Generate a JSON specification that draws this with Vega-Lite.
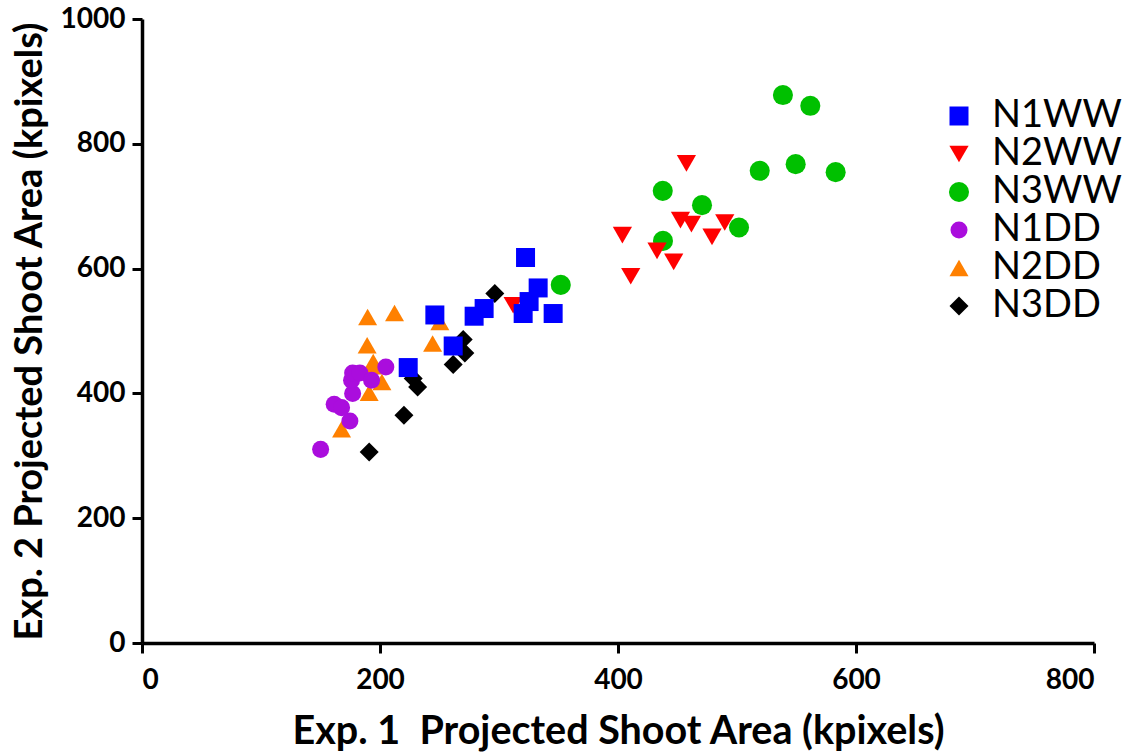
{
  "$schema": "https://vega.github.io/schema/vega-lite/v6.json",
  "width": 952,
  "height": 624,
  "autosize": {"type": "none"},
  "padding": {"left": 142, "top": 19, "right": 48, "bottom": 113},
  "background": "white",
  "config": {
    "view": {"stroke": null},
    "axis": {
      "grid": false,
      "domainColor": "black",
      "domainWidth": 3.5,
      "tickColor": "black",
      "tickWidth": 3,
      "tickSize": 10,
      "labelFont": "Lato",
      "labelFontWeight": "bold",
      "labelFontSize": 28,
      "labelColor": "black",
      "titleFont": "Lato",
      "titleFontWeight": "bold",
      "titleFontSize": 38,
      "titleColor": "black"
    }
  },
  "data": {
    "values": [
      {"group": "N3WW", "exp1": 538.6, "exp2": 878.1},
      {"group": "N3WW", "exp1": 561.6, "exp2": 860.9},
      {"group": "N3WW", "exp1": 519.1, "exp2": 756.7},
      {"group": "N3WW", "exp1": 549.3, "exp2": 767.4},
      {"group": "N3WW", "exp1": 582.9, "exp2": 754.6},
      {"group": "N3WW", "exp1": 437.6, "exp2": 724.6},
      {"group": "N3WW", "exp1": 470.6, "exp2": 701.7},
      {"group": "N3WW", "exp1": 501.7, "exp2": 665.9},
      {"group": "N3WW", "exp1": 437.8, "exp2": 644.4},
      {"group": "N3WW", "exp1": 351.9, "exp2": 573.9},
      {"group": "N3DD", "exp1": 296.5, "exp2": 560.1},
      {"group": "N3DD", "exp1": 269.9, "exp2": 486.3},
      {"group": "N3DD", "exp1": 271.3, "exp2": 464.8},
      {"group": "N3DD", "exp1": 261.5, "exp2": 446.2},
      {"group": "N3DD", "exp1": 227.9, "exp2": 423.7},
      {"group": "N3DD", "exp1": 231.6, "exp2": 410.3},
      {"group": "N3DD", "exp1": 220.1, "exp2": 364.9},
      {"group": "N3DD", "exp1": 190.9, "exp2": 306.0},
      {"group": "N2DD", "exp1": 189.6, "exp2": 522.5},
      {"group": "N2DD", "exp1": 212.2, "exp2": 529.0},
      {"group": "N2DD", "exp1": 250.3, "exp2": 514.5},
      {"group": "N2DD", "exp1": 244.2, "exp2": 479.9},
      {"group": "N2DD", "exp1": 189.2, "exp2": 477.1},
      {"group": "N2DD", "exp1": 194.3, "exp2": 450.4},
      {"group": "N2DD", "exp1": 193.4, "exp2": 443.5},
      {"group": "N2DD", "exp1": 201.6, "exp2": 418.3},
      {"group": "N2DD", "exp1": 190.9, "exp2": 401.0},
      {"group": "N2DD", "exp1": 167.7, "exp2": 342.4},
      {"group": "N1DD", "exp1": 150.1, "exp2": 310.3},
      {"group": "N1DD", "exp1": 174.7, "exp2": 355.7},
      {"group": "N1DD", "exp1": 161.5, "exp2": 382.5},
      {"group": "N1DD", "exp1": 167.7, "exp2": 377.2},
      {"group": "N1DD", "exp1": 177.0, "exp2": 399.7},
      {"group": "N1DD", "exp1": 176.1, "exp2": 421.0},
      {"group": "N1DD", "exp1": 177.0, "exp2": 432.7},
      {"group": "N1DD", "exp1": 183.1, "exp2": 432.7},
      {"group": "N1DD", "exp1": 192.9, "exp2": 421.0},
      {"group": "N1DD", "exp1": 204.9, "exp2": 442.3},
      {"group": "N2WW", "exp1": 457.5, "exp2": 768.6},
      {"group": "N2WW", "exp1": 403.7, "exp2": 653.6},
      {"group": "N2WW", "exp1": 452.5, "exp2": 677.6},
      {"group": "N2WW", "exp1": 461.7, "exp2": 671.2},
      {"group": "N2WW", "exp1": 489.7, "exp2": 673.9},
      {"group": "N2WW", "exp1": 479.0, "exp2": 650.8},
      {"group": "N2WW", "exp1": 432.8, "exp2": 628.4},
      {"group": "N2WW", "exp1": 446.8, "exp2": 610.7},
      {"group": "N2WW", "exp1": 410.7, "exp2": 587.8},
      {"group": "N2WW", "exp1": 311.9, "exp2": 541.3},
      {"group": "N1WW", "exp1": 322.3, "exp2": 617.8},
      {"group": "N1WW", "exp1": 332.9, "exp2": 569.0},
      {"group": "N1WW", "exp1": 325.3, "exp2": 547.2},
      {"group": "N1WW", "exp1": 320.3, "exp2": 528.0},
      {"group": "N1WW", "exp1": 345.5, "exp2": 528.0},
      {"group": "N1WW", "exp1": 287.5, "exp2": 536.0},
      {"group": "N1WW", "exp1": 279.1, "exp2": 523.7},
      {"group": "N1WW", "exp1": 246.1, "exp2": 525.7},
      {"group": "N1WW", "exp1": 261.5, "exp2": 476.0},
      {"group": "N1WW", "exp1": 223.7, "exp2": 441.4}
    ]
  },
  "mark": {"type": "point", "filled": true, "opacity": 1, "strokeWidth": 0},
  "encoding": {
    "x": {
      "field": "exp1",
      "type": "quantitative",
      "scale": {"domain": [0, 800], "nice": false, "zero": false},
      "axis": {
        "values": [0, 200, 400, 600, 800],
        "format": "d",
        "labelPadding": 13,
        "titlePadding": 18,
        "titleFontSize": 39.5,
        "title": "Exp. 1\u00a0 Projected Shoot Area (kpixels)"
      }
    },
    "y": {
      "field": "exp2",
      "type": "quantitative",
      "scale": {"domain": [0, 1000], "nice": false, "zero": false},
      "axis": {
        "values": [0, 200, 400, 600, 800, 1000],
        "format": "d",
        "labelPadding": 7,
        "titlePadding": 11,
        "title": "Exp. 2 Projected Shoot Area (kpixels)"
      }
    },
    "color": {
      "field": "group",
      "type": "nominal",
      "scale": {
        "domain": ["N1WW", "N2WW", "N3WW", "N1DD", "N2DD", "N3DD"],
        "range": ["#0000ff", "#ff0000", "#00c000", "#aa0ddd", "#ff8000", "#000000"]
      },
      "legend": {
        "title": null,
        "orient": "none",
        "legendX": 798,
        "legendY": 78,
        "padding": 0,
        "labelFont": "Lato",
        "labelFontSize": 38,
        "labelColor": "black",
        "labelOffset": 14,
        "rowPadding": -4,
        "symbolStrokeWidth": 0,
        "symbolOpacity": 1
      }
    },
    "shape": {
      "field": "group",
      "type": "nominal",
      "scale": {
        "domain": ["N1WW", "N2WW", "N3WW", "N1DD", "N2DD", "N3DD"],
        "range": ["square", "triangle-down", "circle", "circle", "triangle-up", "diamond"]
      }
    },
    "size": {
      "field": "group",
      "type": "nominal",
      "scale": {
        "type": "ordinal",
        "domain": ["N1WW", "N2WW", "N3WW", "N1DD", "N2DD", "N3DD"],
        "range": [361, 370, 403, 290, 361, 361]
      }
    }
  }
}
